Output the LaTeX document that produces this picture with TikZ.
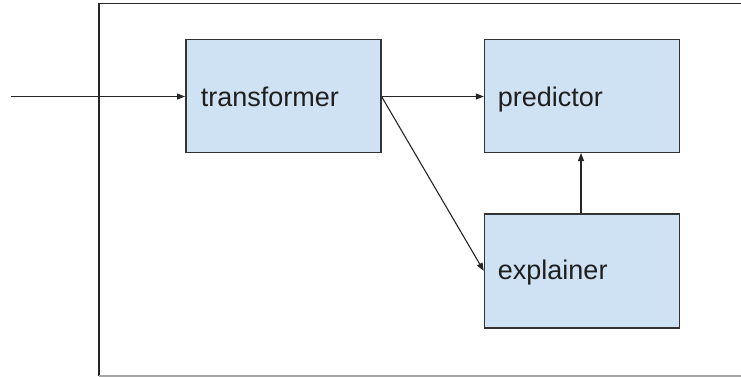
\documentclass[tikz,border=0pt]{standalone}
\usepackage{fontspec}
\setmainfont{Liberation Sans}
\usetikzlibrary{arrows.meta}
\definecolor{boxfill}{HTML}{CFE2F3}
\definecolor{boxline}{HTML}{333333}
\definecolor{inktext}{HTML}{1F1F1F}
\begin{document}
\begin{tikzpicture}[x=1pt,y=-1pt,
  stagebox/.style={draw=boxline,line width=1.5pt,fill=boxfill,inner sep=0pt,
    minimum width=195pt,minimum height=113pt},
  stagetext/.style={anchor=base west,inner sep=0pt,text=inktext,
    font=\fontsize{27}{30}\selectfont},
  flow/.style={draw=black!85,line width=1.1pt,
    -{Triangle[length=8pt,width=6pt]}}]
  \useasboundingbox (0,0) rectangle (741,377);
  % outer frame, open to the right
  \draw[black!85,line width=1.5pt] (800,3.5) -- (98.8,3.5) -- (98.8,376);
  \draw[black!35,line width=1.5pt] (98.8,376) -- (800,376);
  % stages
  \node[stagebox] (tr) at (283.3,95.8) {};
  \node[stagebox] (pr) at (582,95.8) {};
  \node[stagebox,minimum height=114pt] (ex) at (582,270.9) {};
  \node[stagetext] (trt) at ([xshift=15.5pt,yshift=-11pt]tr.west) {transformer};
  \node[stagetext] (prt) at ([xshift=14pt,yshift=-11pt]pr.west) {predictor};
  \node[stagetext] (ext) at ([xshift=14pt,yshift=-9pt]ex.west) {explainer};
  % connectors
  \coordinate (src) at (11,96.5);
  \draw[flow] (src) -- (tr.west |- src);
  \draw[flow] (tr.east |- src) -- (pr.west |- src);
  \draw[flow] (tr.east |- src) -- (ex.west);
  \draw[flow] ([xshift=-1pt]ex.north) -- ([xshift=-1pt]pr.south);
\end{tikzpicture}
\end{document}
